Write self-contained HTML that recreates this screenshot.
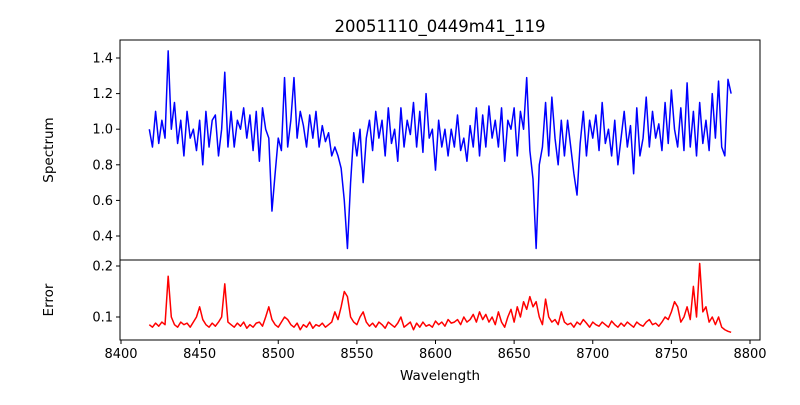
<!DOCTYPE html>
<html><head><meta charset="utf-8"><style>body{margin:0;background:#fff}svg{font-family:"DejaVu Sans","Liberation Sans",sans-serif}</style></head>
<body>
<svg id="c" width="800" height="400"></svg>
<script>
const wlStart = 8418, wlStep = 2;
const spectrum = [1.0,0.9,1.1,0.92,1.05,0.95,1.44,1.0,1.15,0.92,1.05,0.85,1.1,0.95,1.0,0.88,1.05,0.8,1.1,0.9,1.05,1.08,0.85,1.0,1.32,0.9,1.1,0.9,1.05,1.0,1.12,0.95,1.08,0.88,1.1,0.82,1.12,1.0,0.95,0.54,0.75,0.95,0.88,1.29,0.9,1.05,1.29,0.95,1.1,1.02,0.9,1.08,0.95,1.1,0.9,1.02,0.93,0.98,0.85,0.9,0.85,0.78,0.6,0.33,0.7,0.98,0.85,1.0,0.7,0.95,1.05,0.88,1.1,0.95,1.05,0.85,1.12,0.92,1.0,0.82,1.12,0.9,1.05,0.97,1.15,0.9,1.1,0.87,1.2,0.95,1.0,0.77,1.05,0.9,1.0,0.85,1.0,0.9,1.08,0.88,0.95,0.82,1.02,0.9,1.12,0.85,1.08,0.9,1.13,0.95,1.05,0.9,1.12,0.82,1.05,1.0,1.12,0.85,1.1,1.0,1.29,0.88,0.72,0.33,0.8,0.9,1.15,0.85,1.18,0.95,0.8,1.05,0.85,1.05,0.9,0.75,0.63,0.92,1.1,0.85,1.05,0.95,1.08,0.88,1.15,0.92,1.0,0.85,1.05,0.8,0.95,1.1,0.9,1.02,0.75,1.12,0.85,0.95,1.18,0.9,1.1,0.95,1.03,0.88,1.15,0.92,1.22,1.0,0.9,1.12,0.88,1.26,0.9,1.1,0.85,1.15,0.92,1.05,0.88,1.2,0.95,1.27,0.9,0.85,1.28,1.2];
const errors = [0.085,0.08,0.088,0.082,0.09,0.085,0.18,0.1,0.085,0.08,0.09,0.085,0.088,0.08,0.09,0.1,0.12,0.095,0.085,0.08,0.088,0.082,0.09,0.1,0.165,0.09,0.085,0.08,0.088,0.082,0.09,0.078,0.085,0.08,0.088,0.09,0.082,0.1,0.12,0.095,0.085,0.08,0.09,0.1,0.095,0.085,0.08,0.088,0.075,0.085,0.08,0.09,0.078,0.085,0.082,0.088,0.08,0.085,0.09,0.11,0.095,0.12,0.15,0.14,0.1,0.09,0.085,0.1,0.11,0.09,0.082,0.088,0.08,0.09,0.085,0.078,0.09,0.085,0.08,0.088,0.1,0.08,0.085,0.09,0.075,0.088,0.08,0.09,0.082,0.085,0.08,0.092,0.085,0.09,0.082,0.095,0.088,0.09,0.095,0.085,0.1,0.09,0.095,0.105,0.09,0.11,0.095,0.105,0.09,0.1,0.085,0.11,0.09,0.08,0.1,0.115,0.09,0.12,0.1,0.13,0.115,0.14,0.12,0.13,0.1,0.085,0.135,0.1,0.09,0.095,0.085,0.11,0.09,0.085,0.088,0.08,0.09,0.085,0.095,0.088,0.08,0.09,0.085,0.082,0.09,0.085,0.08,0.092,0.085,0.08,0.088,0.082,0.09,0.085,0.08,0.09,0.085,0.082,0.09,0.095,0.085,0.088,0.082,0.09,0.1,0.095,0.11,0.13,0.12,0.09,0.1,0.12,0.095,0.16,0.1,0.205,0.11,0.12,0.09,0.1,0.085,0.1,0.08,0.075,0.072,0.07];
const xTicks = [8400,8450,8500,8550,8600,8650,8700,8750,8800];
const specTicks = [0.4,0.6,0.8,1.0,1.2,1.4];
const errTicks = [0.1,0.2];

const svg = document.getElementById('c');
const NS = 'http://www.w3.org/2000/svg';
function mk(tag, attrs, parent){const e=document.createElementNS(NS,tag);for(const k in attrs)e.setAttribute(k,attrs[k]);(parent||svg).appendChild(e);return e;}
const L=120,R=760,T1=40,B1=260,T2=260,B2=340;
const xs = w => 121 + (w-8400)*1.5725;
const ys1 = v => 58 + (1.4-v)*178;
const ys2 = v => 266 + (0.2-v)*510;

function series(vals, ys, color, name){
  let d='';
  vals.forEach((v,i)=>{d+=(i?'L':'M')+xs(wlStart+i*wlStep).toFixed(2)+','+ys(v).toFixed(2);});
  const p=mk('path',{d:d,fill:'none',stroke:color,'stroke-width':1.5,'stroke-linejoin':'round'});
  
  
}
series(spectrum, ys1, '#0000ff', 'spectrum-line');
series(errors, ys2, '#ff0000', 'error-line');

const f1=mk('rect',{x:L,y:T1,width:R-L,height:B1-T1,fill:'none',stroke:'#000','stroke-width':1});


const f2=mk('rect',{x:L,y:T2,width:R-L,height:B2-T2,fill:'none',stroke:'#000','stroke-width':1});



xTicks.forEach(t=>{const x=xs(t);
  mk('line',{x1:x,x2:x,y1:B2,y2:B2+4,stroke:'#000'});
  const tx=mk('text',{x:x,y:B2+18,'text-anchor':'middle','font-size':13});tx.textContent=t;
  
  
});
specTicks.forEach(t=>{const y=ys1(t);
  mk('line',{x1:L-4,x2:L,y1:y,y2:y,stroke:'#000'});
  const tx=mk('text',{x:L-7,y:y+4.5,'text-anchor':'end','font-size':13});tx.textContent=t.toFixed(1);
  
  
});
errTicks.forEach(t=>{const y=ys2(t);
  mk('line',{x1:L-4,x2:L,y1:y,y2:y,stroke:'#000'});
  const tx=mk('text',{x:L-7,y:y+4.5,'text-anchor':'end','font-size':13});tx.textContent=t.toFixed(1);
  
  
});
</script>
<svg width="800" height="400" style="position:absolute;left:0;top:0" font-family="DejaVu Sans, Liberation Sans, sans-serif">
<text x="440" y="32" text-anchor="middle" font-size="16.5">20051110_0449m41_119</text>
<text x="440" y="380" text-anchor="middle" font-size="13.5">Wavelength</text>
<text x="53" y="150" text-anchor="middle" font-size="13.5" transform="rotate(-90 53 150)">Spectrum</text>
<text x="53" y="300" text-anchor="middle" font-size="13.5" transform="rotate(-90 53 300)">Error</text>
</svg>
</body></html>
